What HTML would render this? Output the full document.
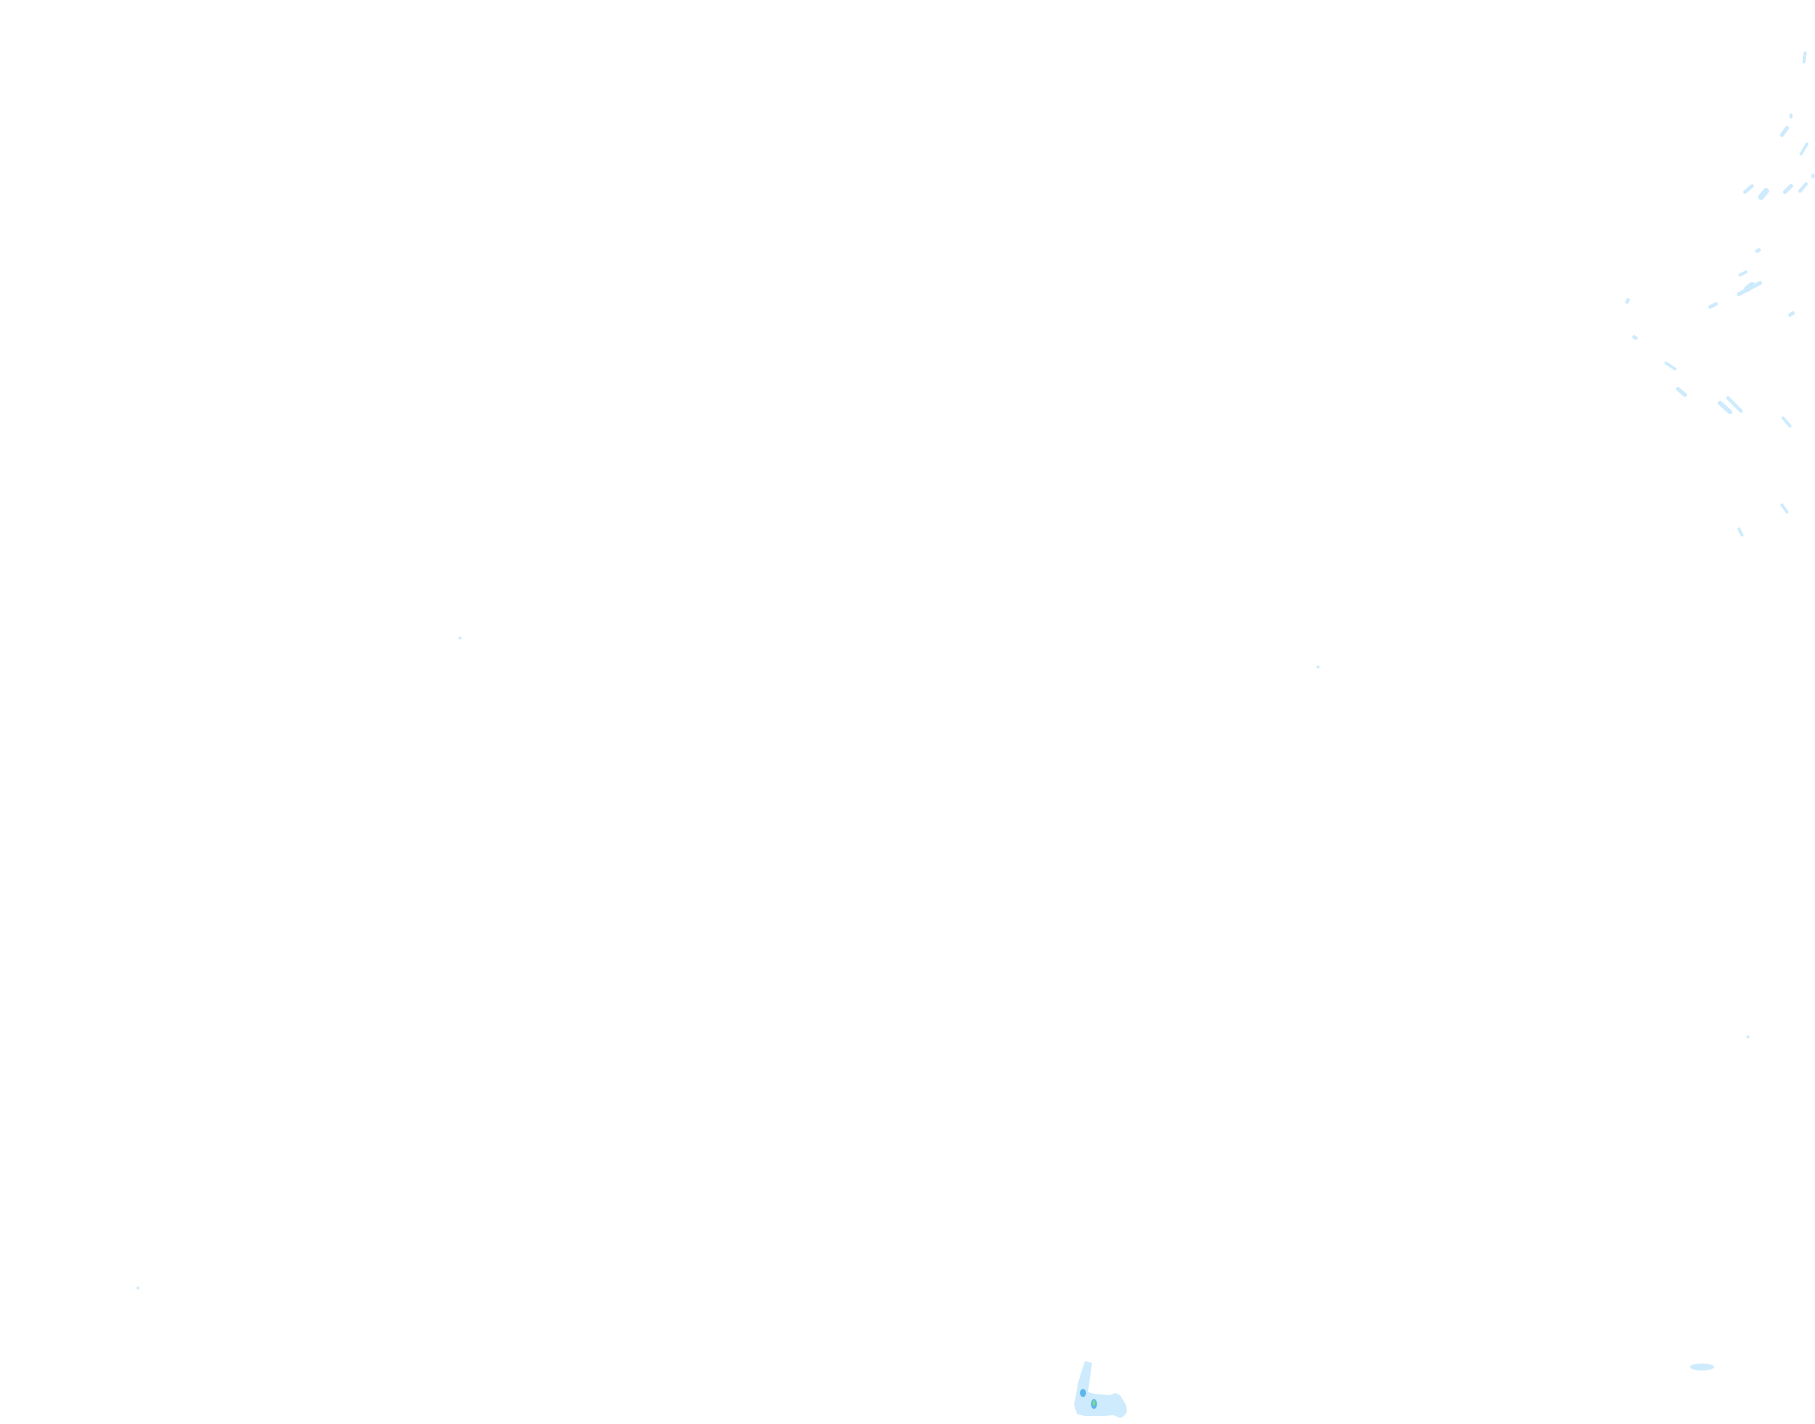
<!DOCTYPE html>
<html><head><meta charset="utf-8"><style>html,body{margin:0;padding:0;background:#fff;width:1815px;height:1424px;overflow:hidden}</style></head>
<body>
<svg width="1815" height="1424" viewBox="0 0 1815 1424" xmlns="http://www.w3.org/2000/svg">
<g stroke="#cdebfd" stroke-linecap="round" fill="none">
<line x1="1805" y1="53" x2="1804" y2="62" stroke-width="3"/>
<line x1="1791" y1="115" x2="1791" y2="117" stroke-width="3"/>
<line x1="1787" y1="128" x2="1782" y2="135" stroke-width="4"/>
<line x1="1807" y1="144" x2="1801" y2="154" stroke-width="3"/>
<line x1="1813" y1="175" x2="1813" y2="177" stroke-width="3"/>
<line x1="1752" y1="186" x2="1745" y2="192" stroke-width="3.5"/>
<line x1="1766" y1="191" x2="1761" y2="197" stroke-width="6"/>
<line x1="1791" y1="186" x2="1785" y2="192" stroke-width="4"/>
<line x1="1806" y1="184" x2="1800" y2="191" stroke-width="3.5"/>
<line x1="1759" y1="250" x2="1757" y2="251" stroke-width="3.5"/>
<line x1="1746" y1="272" x2="1740" y2="275" stroke-width="3"/>
<line x1="1760" y1="283" x2="1739" y2="294" stroke-width="4"/>
<line x1="1752" y1="285" x2="1747" y2="289" stroke-width="6"/>
<line x1="1716" y1="304" x2="1710" y2="307" stroke-width="3.5"/>
<line x1="1628" y1="300" x2="1627" y2="302" stroke-width="3.5"/>
<line x1="1793" y1="313" x2="1790" y2="315" stroke-width="3.5"/>
<line x1="1634" y1="337" x2="1636" y2="338" stroke-width="3.5"/>
<line x1="1666" y1="363" x2="1675" y2="369" stroke-width="3"/>
<line x1="1678" y1="389" x2="1685" y2="395" stroke-width="4"/>
<line x1="1720" y1="403" x2="1730" y2="412" stroke-width="4.5"/>
<line x1="1728" y1="398" x2="1741" y2="411" stroke-width="3.5"/>
<line x1="1783" y1="418" x2="1790" y2="426" stroke-width="3"/>
<line x1="1782" y1="505" x2="1787" y2="512" stroke-width="3"/>
<line x1="1739" y1="529" x2="1742" y2="535" stroke-width="3"/>
</g>
<g fill="#cdebfd">
<circle cx="460" cy="638" r="1.5"/>
<circle cx="1318" cy="667" r="1.5"/>
<circle cx="1748" cy="1037" r="1.5"/>
<circle cx="138" cy="1288" r="1.5"/>
<ellipse cx="1702" cy="1367" rx="12" ry="3.5"/>
<polygon points="1085,1361 1092,1363 1090,1378 1088,1392 1095,1394 1110,1395 1115,1393 1120,1395 1123,1400 1126,1405 1127,1412 1124,1416 1120,1418 1113,1415 1105,1416 1095,1416 1085,1416 1077,1414 1074,1405 1076,1395 1078,1383 1082,1370"/>
</g>
<ellipse cx="1083" cy="1393" rx="3" ry="4" fill="#5bb6ee"/>
<ellipse cx="1094" cy="1404" rx="3" ry="5" fill="#5bb6ee"/>
<ellipse cx="1094" cy="1403" rx="1.3" ry="3" fill="#7be07b"/>
</svg>
</body></html>
